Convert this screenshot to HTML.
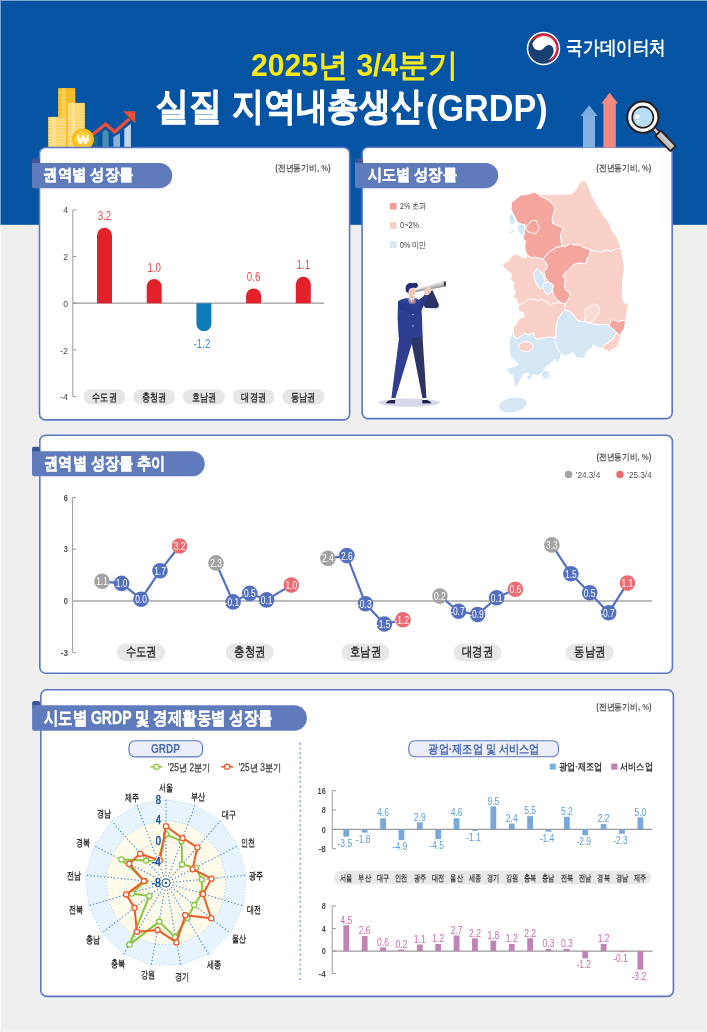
<!DOCTYPE html>
<html lang="ko"><head><meta charset="utf-8">
<style>
html,body{margin:0;padding:0;}
body{width:707px;height:1032px;overflow:hidden;background:#efefef;position:relative;font-family:"Liberation Sans",sans-serif;}
svg{position:absolute;left:0;top:0;will-change:transform;}
svg text{font-family:"Liberation Sans",sans-serif;}
</style></head>
<body>
<svg width="707" height="1032" viewBox="0 0 707 1032">
<rect x="0" y="0" width="707" height="224.8" fill="#0554a4"/>
<rect x="0" y="0" width="707" height="1" fill="#7fa5cf"/>
<rect x="0" y="0" width="1" height="225" fill="#7fa5cf"/>
<rect x="0" y="225" width="1" height="807" fill="#fafafa"/>
<rect x="705" y="225" width="2" height="807" fill="#f2f2f2"/>
<rect x="0" y="1030" width="707" height="2" fill="#f2f2f2"/>
<text x="251.04" y="75.75" font-size="31.91" fill="#f8e81c" textLength="207.41" lengthAdjust="spacingAndGlyphs" font-weight="bold">2025년 3/4분기</text>
<text x="156.02" y="119.45" font-size="38.38" fill="#ffffff" textLength="65.67" lengthAdjust="spacingAndGlyphs" font-weight="bold" stroke="#ffffff" stroke-width="0.9">실질</text>
<text x="231.92" y="119.45" font-size="38.38" fill="#ffffff" textLength="191.07" lengthAdjust="spacingAndGlyphs" font-weight="bold" stroke="#ffffff" stroke-width="0.9">지역내총생산</text>
<text x="426.1" y="121" font-size="36.6" fill="#ffffff" textLength="121.6" lengthAdjust="spacingAndGlyphs" font-weight="bold">(GRDP)</text>
<g transform="translate(543.5 48.5)">
<circle cx="0" cy="0" r="16.7" fill="#ffffff"/>
<circle cx="0" cy="0" r="15.2" fill="#173f70"/>
<path d="M -13.07,-6.95 A 14.8 14.8 0 1 1 5.3,13.82 A 13.7 13.7 0 1 0 -13.07,-6.95 Z" fill="#e8203a"/>
<path d="M -11.2,-4.6 A 12.4 12.4 0 1 1 4.65,11.5 C 7.5,9.5 10.3,5.5 10.2,2.3 C 10.1,-1 8.5,-3.3 5.6,-3.4 C 3,-3.5 1.5,-1.5 0,0 C -1.5,1.5 -3.5,2 -5.1,1.8 C -8,1.5 -10.2,-0.5 -11.2,-4.6 Z" fill="#ffffff"/>
</g>
<text x="566.22" y="53.5" font-size="19.42" fill="#ffffff" textLength="99.87" lengthAdjust="spacingAndGlyphs" font-weight="bold">국가데이터처</text>
<rect x="58.1" y="88.1" width="17.1" height="58.9" fill="#f6bf2e"/>
<rect x="61.86" y="88.1" width="3.76" height="58.9" fill="#fbd560" opacity="0.7"/>
<rect x="58.1" y="92.2" width="17.1" height="0.8" fill="#fad25a"/>
<rect x="58.1" y="97.1" width="17.1" height="0.8" fill="#fad25a"/>
<rect x="58.1" y="102" width="17.1" height="0.8" fill="#fad25a"/>
<rect x="58.1" y="106.9" width="17.1" height="0.8" fill="#fad25a"/>
<rect x="58.1" y="111.8" width="17.1" height="0.8" fill="#fad25a"/>
<rect x="58.1" y="116.7" width="17.1" height="0.8" fill="#fad25a"/>
<rect x="58.1" y="121.6" width="17.1" height="0.8" fill="#fad25a"/>
<rect x="58.1" y="126.5" width="17.1" height="0.8" fill="#fad25a"/>
<rect x="58.1" y="131.4" width="17.1" height="0.8" fill="#fad25a"/>
<rect x="58.1" y="136.3" width="17.1" height="0.8" fill="#fad25a"/>
<rect x="58.1" y="141.2" width="17.1" height="0.8" fill="#fad25a"/>
<rect x="66.5" y="88.1" width="8.7" height="59" fill="#f3b526" opacity="0.6"/>
<rect x="67.8" y="102.9" width="17" height="44.1" fill="#fbd466"/>
<rect x="71.54" y="102.9" width="3.74" height="44.1" fill="#fde6a0" opacity="0.7"/>
<rect x="67.8" y="104.85" width="17" height="0.8" fill="#fde3a0"/>
<rect x="67.8" y="107.6" width="17" height="0.8" fill="#fde3a0"/>
<rect x="67.8" y="110.35" width="17" height="0.8" fill="#fde3a0"/>
<rect x="67.8" y="113.1" width="17" height="0.8" fill="#fde3a0"/>
<rect x="67.8" y="115.85" width="17" height="0.8" fill="#fde3a0"/>
<rect x="67.8" y="118.6" width="17" height="0.8" fill="#fde3a0"/>
<rect x="67.8" y="121.35" width="17" height="0.8" fill="#fde3a0"/>
<rect x="67.8" y="124.1" width="17" height="0.8" fill="#fde3a0"/>
<rect x="67.8" y="126.85" width="17" height="0.8" fill="#fde3a0"/>
<rect x="67.8" y="129.6" width="17" height="0.8" fill="#fde3a0"/>
<rect x="67.8" y="132.35" width="17" height="0.8" fill="#fde3a0"/>
<rect x="67.8" y="135.1" width="17" height="0.8" fill="#fde3a0"/>
<rect x="67.8" y="137.85" width="17" height="0.8" fill="#fde3a0"/>
<rect x="67.8" y="140.6" width="17" height="0.8" fill="#fde3a0"/>
<rect x="67.8" y="143.35" width="17" height="0.8" fill="#fde3a0"/>
<rect x="48.2" y="116.9" width="17.7" height="30.1" fill="#fbd466"/>
<rect x="52.09" y="116.9" width="3.89" height="30.1" fill="#fde6a0" opacity="0.7"/>
<rect x="48.2" y="118.85" width="17.7" height="0.8" fill="#fde3a0"/>
<rect x="48.2" y="121.6" width="17.7" height="0.8" fill="#fde3a0"/>
<rect x="48.2" y="124.35" width="17.7" height="0.8" fill="#fde3a0"/>
<rect x="48.2" y="127.1" width="17.7" height="0.8" fill="#fde3a0"/>
<rect x="48.2" y="129.85" width="17.7" height="0.8" fill="#fde3a0"/>
<rect x="48.2" y="132.6" width="17.7" height="0.8" fill="#fde3a0"/>
<rect x="48.2" y="135.35" width="17.7" height="0.8" fill="#fde3a0"/>
<rect x="48.2" y="138.1" width="17.7" height="0.8" fill="#fde3a0"/>
<rect x="48.2" y="140.85" width="17.7" height="0.8" fill="#fde3a0"/>
<rect x="48.2" y="143.6" width="17.7" height="0.8" fill="#fde3a0"/>
<polygon points="94,137 97.8,135.8 97.8,147.4 94,147.4" fill="#1e6b8a"/>
<polygon points="102.5,132.2 105.6,129.6 108.7,132.2 108.7,147.4 102.5,147.4" fill="#4c8cb0"/>
<polygon points="113.4,136.9 120,133.3 120,147.4 113.4,147.4" fill="#8fb0d2"/>
<polygon points="124.3,129.1 130.9,123.7 130.9,147.4 124.3,147.4" fill="#c4d4e8"/>
<polyline points="90,136.5 105.6,124.1 114.6,132 129.6,118.8" fill="none" stroke="#ea4f37" stroke-width="3.3" stroke-linejoin="miter"/>
<polygon points="123.1,111.2 135.3,111.2 135.3,123.4" fill="#ea4f37"/>
<circle cx="82.9" cy="139.4" r="11" fill="#f7bb1f"/>
<circle cx="82.9" cy="139.4" r="8.7" fill="#f9c93a"/>
<text x="82.9" y="144.2" font-size="12.5" fill="#ffffff" text-anchor="middle" font-weight="bold">₩</text>
<g fill="#ffffff" stroke="#5b78c4" stroke-width="1.6">
<rect x="39.5" y="147.5" width="310.1" height="272.4" rx="6"/>
<rect x="362.1" y="147.3" width="310.1" height="271.3" rx="6"/>
<rect x="39.8" y="435.3" width="632.6" height="238" rx="6"/>
<rect x="40.8" y="689.8" width="632.6" height="306.6" rx="6"/>
</g>
<rect x="583" y="115" width="12" height="32.6" fill="#82b1e0"/>
<polygon points="580.6,116 597.6,116 589.1,105.2" fill="#7eaee0"/>
<rect x="603.4" y="103" width="12.4" height="44.6" fill="#f08a80"/>
<polygon points="601.2,103.6 618,103.6 609.6,92.8" fill="#f08a80"/>
<g transform="translate(642.8 117.2) rotate(46.1)"><rect x="14" y="-1.8" width="9" height="3.6" fill="#d8d8d8" stroke="#2a1f1c" stroke-width="1.1"/><rect x="22.2" y="-3.7" width="21.4" height="7.4" rx="0.8" fill="#bdbdbd" stroke="#2a1f1c" stroke-width="1.7"/><rect x="24" y="-1.6" width="17.5" height="1" fill="#e2e2e2"/></g>
<circle cx="642.8" cy="117.2" r="15.6" fill="#ffffff" stroke="#2a1f1c" stroke-width="2"/>
<circle cx="642.8" cy="117.2" r="10.6" fill="#b5def5" stroke="#2a1f1c" stroke-width="1.6"/>
<circle cx="637.3" cy="116.5" r="2.3" fill="#ffffff"/>
<circle cx="638.1" cy="121" r="1.1" fill="#ffffff"/>
<rect x="32" y="158.2" width="8" height="8.8" rx="2" fill="#3e5596"/>
<path d="M 32,163 H 159.55 A 12.65 12.65 0 0 1 159.55,188.3 H 34 A 2 2 0 0 1 32,186.3 Z" fill="#5f7bbc"/>
<text x="43.31" y="180.45" font-size="16.18" fill="#ffffff" textLength="90.07" lengthAdjust="spacingAndGlyphs" font-weight="bold" stroke="#ffffff" stroke-width="0.35">권역별 성장률</text>
<rect x="355" y="158.3" width="8" height="8.6" rx="2" fill="#3e5596"/>
<path d="M 355,162.9 H 485.55 A 12.65 12.65 0 0 1 485.55,188.2 H 357 A 2 2 0 0 1 355,186.2 Z" fill="#5f7bbc"/>
<text x="367.63" y="180.2" font-size="15.72" fill="#ffffff" textLength="89.24" lengthAdjust="spacingAndGlyphs" font-weight="bold" stroke="#ffffff" stroke-width="0.35">시도별 성장률</text>
<rect x="32" y="446.7" width="8" height="8.6" rx="2" fill="#3e5596"/>
<path d="M 32,451.3 H 192.3 A 12.5 12.5 0 0 1 192.3,476.3 H 34 A 2 2 0 0 1 32,474.3 Z" fill="#5f7bbc"/>
<text x="44.19" y="469.05" font-size="17.11" fill="#ffffff" textLength="121.43" lengthAdjust="spacingAndGlyphs" font-weight="bold" stroke="#ffffff" stroke-width="0.35">권역별 성장률 추이</text>
<rect x="32.1" y="700.9" width="8" height="8.4" rx="2" fill="#3e5596"/>
<path d="M 32.1,705.3 H 294.2 A 12.7 12.7 0 0 1 294.2,730.7 H 34.1 A 2 2 0 0 1 32.1,728.7 Z" fill="#5f7bbc"/>
<text x="43.87" y="723.9" font-size="17.57" fill="#ffffff" textLength="228.65" lengthAdjust="spacingAndGlyphs" font-weight="bold" stroke="#ffffff" stroke-width="0.35">시도별 GRDP 및 경제활동별 성장률</text>
<text x="275.23" y="171.24" font-size="8.9" fill="#5a5a5a" textLength="55.43" lengthAdjust="spacingAndGlyphs" font-weight="bold">(전년동기비, %)</text>
<text x="596.23" y="171.24" font-size="8.9" fill="#5a5a5a" textLength="55.13" lengthAdjust="spacingAndGlyphs" font-weight="bold">(전년동기비, %)</text>
<text x="596.52" y="459.6" font-size="9.25" fill="#5a5a5a" textLength="54.85" lengthAdjust="spacingAndGlyphs" font-weight="bold">(전년동기비, %)</text>
<text x="596.24" y="710.05" font-size="8.79" fill="#5a5a5a" textLength="55.33" lengthAdjust="spacingAndGlyphs" font-weight="bold">(전년동기비, %)</text>
<line x1="72.8" y1="210" x2="72.8" y2="396.6" stroke="#9a9a9a" stroke-width="1"/>
<line x1="72.8" y1="209.8" x2="76.3" y2="209.8" stroke="#9a9a9a" stroke-width="1"/>
<text x="68" y="213.4" font-size="9.92" fill="#4a4a4a" text-anchor="end" textLength="4.8" lengthAdjust="spacingAndGlyphs">4</text>
<line x1="72.8" y1="256.5" x2="76.3" y2="256.5" stroke="#9a9a9a" stroke-width="1"/>
<text x="68" y="260.1" font-size="9.92" fill="#4a4a4a" text-anchor="end" textLength="4.8" lengthAdjust="spacingAndGlyphs">2</text>
<line x1="72.8" y1="303.2" x2="76.3" y2="303.2" stroke="#9a9a9a" stroke-width="1"/>
<text x="68" y="306.8" font-size="9.92" fill="#4a4a4a" text-anchor="end" textLength="4.8" lengthAdjust="spacingAndGlyphs">0</text>
<line x1="72.8" y1="349.9" x2="76.3" y2="349.9" stroke="#9a9a9a" stroke-width="1"/>
<text x="68" y="353.5" font-size="9.92" fill="#4a4a4a" text-anchor="end" textLength="8" lengthAdjust="spacingAndGlyphs">-2</text>
<line x1="72.8" y1="396.6" x2="76.3" y2="396.6" stroke="#9a9a9a" stroke-width="1"/>
<text x="68" y="400.2" font-size="9.92" fill="#4a4a4a" text-anchor="end" textLength="8" lengthAdjust="spacingAndGlyphs">-4</text>
<line x1="72.8" y1="303.2" x2="324.2" y2="303.2" stroke="#9a9a9a" stroke-width="1.2"/>
<path d="M 97,303.2 V 235.18 A 7.5 7.5 0 0 1 112,235.18 V 303.2 Z" fill="#e2212b"/>
<text x="104.5" y="220.38" font-size="13.27" fill="#e8474f" text-anchor="middle" textLength="13.6" lengthAdjust="spacingAndGlyphs">3.2</text>
<rect x="83.5" y="389.2" width="42" height="15.3" rx="7.6" fill="#e6e6e6"/>
<text x="104.5" y="400.51" font-size="10.98" fill="#333333" text-anchor="middle" textLength="24.26" lengthAdjust="spacingAndGlyphs" font-weight="bold">수도권</text>
<path d="M 146.7,303.2 V 286.55 A 7.5 7.5 0 0 1 161.7,286.55 V 303.2 Z" fill="#e2212b"/>
<text x="154.2" y="271.75" font-size="13.27" fill="#e8474f" text-anchor="middle" textLength="13.6" lengthAdjust="spacingAndGlyphs">1.0</text>
<rect x="133.2" y="389.2" width="42" height="15.3" rx="7.6" fill="#e6e6e6"/>
<text x="154.2" y="400.51" font-size="10.98" fill="#333333" text-anchor="middle" textLength="24.26" lengthAdjust="spacingAndGlyphs" font-weight="bold">충청권</text>
<path d="M 196.4,303.2 V 323.72 A 7.5 7.5 0 0 0 211.4,323.72 V 303.2 Z" fill="#0f7bb8"/>
<text x="201.9" y="348.32" font-size="12.71" fill="#3b93c9" text-anchor="middle" textLength="16.8" lengthAdjust="spacingAndGlyphs">-1.2</text>
<rect x="182.9" y="389.2" width="42" height="15.3" rx="7.6" fill="#e6e6e6"/>
<text x="203.9" y="400.51" font-size="10.98" fill="#333333" text-anchor="middle" textLength="24.26" lengthAdjust="spacingAndGlyphs" font-weight="bold">호남권</text>
<path d="M 246.1,303.2 V 295.89 A 7.5 7.5 0 0 1 261.1,295.89 V 303.2 Z" fill="#e2212b"/>
<text x="253.6" y="281.09" font-size="13.27" fill="#e8474f" text-anchor="middle" textLength="13.6" lengthAdjust="spacingAndGlyphs">0.6</text>
<rect x="232.6" y="389.2" width="42" height="15.3" rx="7.6" fill="#e6e6e6"/>
<text x="253.6" y="400.51" font-size="10.98" fill="#333333" text-anchor="middle" textLength="24.26" lengthAdjust="spacingAndGlyphs" font-weight="bold">대경권</text>
<path d="M 295.8,303.2 V 284.21 A 7.5 7.5 0 0 1 310.8,284.21 V 303.2 Z" fill="#e2212b"/>
<text x="303.3" y="269.41" font-size="13.27" fill="#e8474f" text-anchor="middle" textLength="13.6" lengthAdjust="spacingAndGlyphs">1.1</text>
<rect x="282.3" y="389.2" width="42" height="15.3" rx="7.6" fill="#e6e6e6"/>
<text x="303.3" y="400.51" font-size="10.98" fill="#333333" text-anchor="middle" textLength="24.26" lengthAdjust="spacingAndGlyphs" font-weight="bold">동남권</text>
<rect x="390" y="203" width="6.5" height="6.6" fill="#f29d99"/>
<text x="400.1" y="209.13" font-size="9.02" fill="#3a3a3a" textLength="26.3" lengthAdjust="spacingAndGlyphs">2% 초과</text>
<rect x="390" y="222.2" width="6.5" height="6.6" fill="#f7cdc7"/>
<text x="400.1" y="228.33" font-size="9.02" fill="#3a3a3a" textLength="18.9" lengthAdjust="spacingAndGlyphs">0~2%</text>
<rect x="390" y="241.4" width="6.5" height="6.6" fill="#d5e6f5"/>
<text x="400.1" y="247.53" font-size="9.02" fill="#3a3a3a" textLength="26.3" lengthAdjust="spacingAndGlyphs">0% 미만</text>
<ellipse cx="409.2" cy="402.6" rx="30.7" ry="4.2" fill="#d5d9e9"/>
<polygon points="399.3,336 412.1,336 412.1,342.9 395.3,398.6 391.3,398.6" fill="#2e3f92"/>
<polygon points="412.1,336 422.5,336 426.5,398.6 422.5,398.6 411.6,342.9" fill="#2c3565"/>
<rect x="391.3" y="398.2" width="4" height="2" fill="#ffffff"/>
<rect x="422.4" y="398.2" width="4.1" height="2" fill="#ffffff"/>
<path d="M 385.8,403.2 C 386.5,401.2 389,400 391,399.9 L 395.2,400 L 395,403.4 Z" fill="#1c2146"/>
<path d="M 422.3,400 L 426.6,399.9 C 428.5,400.5 431,401.5 431.5,403.2 L 422.3,403.4 Z" fill="#1c2146"/>
<path d="M 419,299.5 L 427.4,294.1 L 432.4,289.9 L 438.9,304.6 C 439,306.5 438,308 436.5,308.2 L 425.5,308 Z" fill="#2a3566"/>
<path d="M 398,301.5 C 399,300 402,298.8 407,298 L 415.5,298.3 L 420.5,300.5 L 421.9,315.5 L 422.7,337.4 L 398.6,337.4 L 397.6,318 Z" fill="#2e3f92"/>
<polygon points="407,298 408.6,297.3 412,303.7 409.5,303.5" fill="#8a93c7"/>
<polygon points="415.5,298.3 414.3,297.4 412.6,303.7 415.6,303.2" fill="#8a93c7"/>
<polygon points="408.6,297.3 414.3,297.4 412.4,303.8" fill="#ffffff"/>
<polygon points="411.6,299.6 413,299.6 412.6,303.6 412,303.6" fill="#ee6a3a"/>
<path d="M 398.2,301.5 C 398,304 398.5,307 399.3,308.4 L 418.8,315 C 421.5,311 425,303 428.4,295.8 L 424.4,294.6 C 421.5,300 418.5,305.5 416.8,308.8 L 404,302.5 Z" fill="#2b3b8c"/>
<line x1="399.5" y1="308.5" x2="418.5" y2="315" stroke="#25347e" stroke-width="0.5"/>
<circle cx="412.9" cy="314.6" r="0.7" fill="#e8e8f0"/>
<circle cx="412.9" cy="325.9" r="0.7" fill="#e8e8f0"/>
<rect x="409.6" y="294" width="4.2" height="4" fill="#efbfae"/>
<ellipse cx="411.6" cy="291.4" rx="4.1" ry="5" fill="#f5c9b9"/>
<ellipse cx="413.6" cy="293.3" rx="1" ry="0.6" fill="#f0a8a0"/>
<path d="M 406.2,291.8 C 405.2,288.5 405.4,285 408.3,283.5 C 410,282.6 412,283.5 413.3,283.2 C 415,282.2 417.8,282.8 418,285.2 C 418.2,287 416.8,288 415.2,287.9 C 413.5,287.7 411.5,287.6 410,288.5 C 408.8,289.3 408.6,291 408.4,293 Z" fill="#1e2b74"/>
<polygon points="415.3,289.4 444.3,280.9 445.4,286.6 415.5,291.9" fill="#c4c4c4"/>
<polygon points="415.5,290.9 445,284.8 445.4,286.6 415.5,291.9" fill="#9d9d9d"/>
<polygon points="416,289.6 444.3,281.5 444.5,282.4 416,290.1" fill="#e6e6e6"/>
<ellipse cx="444.9" cy="283.8" rx="1.1" ry="2.9" fill="#3a3a3a"/>
<path d="M 424.5,294.8 C 424,292.5 424.8,289 426.5,287.5 C 428,286.3 430,286.5 430.8,288 L 430.6,292.5 C 429.5,294.5 427.5,295.8 424.5,294.8 Z" fill="#f5c9b9"/>
<polygon points="539.6,195.2 541,194.6 570.5,194.1 574.4,191.5 577.6,186.5 580.7,182 584.6,180.1 588.4,186.5 592.2,196.6 597.3,205.5 603.6,215.7 608.7,222.1 612.6,231 617.6,238.6 620.2,245 620.8,248.2 616.4,248.8 611.3,251.4 606.2,250.1 601.1,252 596,251.4 590.9,250.1 587.1,248.8 583.3,247.6 579.5,245 574.4,245 570.5,243.7 565.5,246.3 561.6,246.3 560.4,234.8 563.5,228.5 559.1,225.9 552.7,223.4 552.1,218.3 554,211.9 555.3,208.1 552.7,204.3 548.9,200.5 545.1,198.5 541.3,196.6" fill="#f9d1c9" stroke="#ffffff" stroke-width="1.0" stroke-linejoin="round"/>
<polygon points="590.9,250.1 596,251.4 601.1,252 606.2,250.1 611.3,251.4 616.4,248.8 620.8,248.2 622.5,255.2 623.7,264.1 624.4,270.5 623.1,276.8 622.5,283.2 622.5,295.9 623.7,302.3 626.3,303.6 628.8,302.3 627.6,308.6 626.3,316.3 625.6,320.5 621.7,320.7 617.8,321.8 613.8,319.5 610.4,321.2 609.3,326.3 607,324.6 600.2,324.6 592.3,324 584.4,321.8 577.6,320.7 575.4,317.6 571.5,312.5 565.5,310 564.9,303.6 566.5,302.3 569,298.5 570.3,293.4 565.2,289.6 564.5,284.5 565.2,279.4 562.6,275.5 565.2,273 570.3,267.9 574.1,264.1 580.5,262.8 585.6,264.1 586.8,259 589.4,255.2" fill="#f9d1c9" stroke="#ffffff" stroke-width="1.0" stroke-linejoin="round"/>
<polygon points="512.7,255.2 516.5,253.9 520.4,256.5 525.5,258.2 527.2,255.2 531.4,257.7 535.6,257.1 543.3,259 543.9,260.3 547.1,264.1 547.1,267.9 543.9,271.7 545.8,278.1 549.6,283.2 553.5,285.7 552.2,289.6 553.5,294.6 556,298.5 561.1,302.9 564.9,303.6 561.1,302.9 554.7,302.9 550.9,304.8 545.8,301.6 542,299.1 536.9,301 531.8,298.5 527.4,299.7 522.9,303.6 517.8,304.8 516.5,299 513,297.5 515.5,292 513,288 514,283 510.5,279 511.5,274 507,270.5 504,268 502.5,264.1 505,262.5 507.6,261.5 510,258" fill="#f9d1c9" stroke="#ffffff" stroke-width="1.0" stroke-linejoin="round"/>
<polygon points="517.8,304.8 522.9,303.6 527.4,299.7 531.8,298.5 536.9,301 542,299.1 545.8,301.6 550.9,304.8 554.7,302.9 561.1,302.9 564.9,303.6 565.5,310 563.6,311.2 559.8,316.3 557.3,321.4 556,327.7 556.1,332.6 556.1,336.5 553.6,337.7 548.5,337.1 542.1,338.4 535.7,339 533.2,332.6 529.4,335.2 524.3,333.3 517.9,338.4 514.1,337.1 512.8,330.1 514,326.5 516.5,323.9 519.1,318.8 524.2,316.3 523.5,312.5 519.1,311.2 518.5,308" fill="#f9d1c9" stroke="#ffffff" stroke-width="1.0" stroke-linejoin="round"/>
<polygon points="512.8,330.1 514.1,337.1 517.9,338.4 524.3,333.3 529.4,335.2 533.2,332.6 535.7,339 542.1,338.4 548.5,337.1 553.6,337.7 556.1,336.5 554.8,341.5 557.4,347.9 561.2,354.3 561.2,355.6 559.9,359.4 558.6,363.2 554.8,359.4 551,363.2 545.9,367 543.4,372.1 538.3,375.9 533.2,374.6 530.6,379.7 525.5,379.7 529.4,373.4 524.3,373.4 519.2,382.3 516,387.4 514.1,384.8 512.8,375.9 509,373.4 505.8,369.6 511.5,367 517.9,364.5 514.1,359.4 510.3,356.8 509.6,349.2 509,341.5 511.5,335.2" fill="#d5e6f5" stroke="#ffffff" stroke-width="1.0" stroke-linejoin="round"/>
<polygon points="541,374 545,370 550,372 549,378 544,379.5" fill="#d5e6f5" stroke="#ffffff" stroke-width="1.0" stroke-linejoin="round"/>
<polygon points="565.5,310 571.5,312.5 575.4,317.6 577.6,320.7 584.4,321.8 592.3,324 600.2,324.6 607,324.6 609.3,326.3 612.7,328.6 616.7,332.5 613.8,337.6 609.3,342.1 604.8,344.4 601.4,347.8 598,348.4 593.5,344.4 592.3,347.8 586.7,352.3 585,355.7 585.5,359.1 581,358 576.5,358 573.1,352.3 569.7,354.6 565.2,355.7 561.8,354.6 561.2,354.3 557.4,347.9 554.8,341.5 556.1,336.5 556.1,332.6 556,327.7 557.3,321.4 559.8,316.3 563.6,311.2" fill="#d5e6f5" stroke="#ffffff" stroke-width="1.0" stroke-linejoin="round"/>
<polygon points="511.5,202.6 520.5,195.2 529,194.1 534.3,192 539.6,195.2 541.3,196.6 545.1,198.5 548.9,200.5 552.7,204.3 555.3,208.1 554,211.9 552.1,218.3 552.7,223.4 559.1,225.9 563.5,228.5 560.4,234.8 561.6,246.3 556,247.5 548.4,252.6 543.3,259 535.6,257.1 531.4,257.7 527.2,255.2 525.5,250.9 524.6,244.1 526.3,241.6 523.8,239.9 523.3,236.5 524.2,234 524.6,228.9 525.5,225 521.2,224.2 517,222.1 514.9,217 512.7,212.7 511,209.3" fill="#f4a69e" stroke="#ffffff" stroke-width="1.0" stroke-linejoin="round"/>
<polygon points="561.6,246.3 565.5,246.3 570.5,243.7 574.4,245 579.5,245 583.3,247.6 587.1,248.8 590.9,250.1 589.4,255.2 586.8,259 585.6,264.1 580.5,262.8 574.1,264.1 570.3,267.9 565.2,273 562.6,275.5 565.2,279.4 564.5,284.5 565.2,289.6 570.3,293.4 569,298.5 566.5,302.3 564.9,303.6 561.1,302.9 556,298.5 553.5,294.6 552.2,289.6 553.5,285.7 549.6,283.2 545.8,278.1 543.9,271.7 547.1,267.9 547.1,264.1 543.9,260.3 543.3,259 548.4,252.6 556,247.5" fill="#f4a69e" stroke="#ffffff" stroke-width="1.0" stroke-linejoin="round"/>
<polygon points="616.7,332.5 620.6,335.9 619.5,341 617.2,346.7 613.8,348.9 609.3,352.3 604.8,349.5 601.4,347.8 604.8,344.4 609.3,342.1 613.8,337.6" fill="#f9d1c9" stroke="#ffffff" stroke-width="1.0" stroke-linejoin="round"/>
<polygon points="609.3,326.3 610.4,321.2 613.8,319.5 617.8,321.8 621.7,320.7 625.6,320.5 625.1,323.5 624.6,328 621.7,332 620.6,335.9 616.7,332.5 612.7,328.6" fill="#f4a69e" stroke="#ffffff" stroke-width="1.0" stroke-linejoin="round"/>
<polygon points="536.9,268.5 540.7,271.7 544.6,278.1 545.2,282.6 543.9,287 540.7,288.9 536.9,285.7 534.4,279.4 533.7,273" fill="#d5e6f5" stroke="#ffffff" stroke-width="1.0" stroke-linejoin="round"/>
<polygon points="543.9,283.2 548.4,281.9 552.2,283.8 552.8,288.3 550.9,292.1 547.7,294.6 545.2,292.7 542.6,287.6" fill="#d5e6f5" stroke="#ffffff" stroke-width="1.0" stroke-linejoin="round"/>
<polygon points="585.6,308.6 590.6,306.1 594.5,303.6 598.9,306.1 598.9,312.5 595.7,317.6 593.2,321.4 588.1,322.6 584.3,320.1 585.6,315 584.9,311.2" fill="#fbdad3" stroke="#ffffff" stroke-width="1.0" stroke-linejoin="round"/>
<polygon points="525.5,228 528.9,223.3 532.7,220.4 536.5,220.8 537.8,224.6 539.5,228 537.4,231.8 534.4,234 531.4,232.7 528,231.8" fill="#f4a69e" stroke="#ffffff" stroke-width="1.0" stroke-linejoin="round"/>
<polygon points="517.8,224.6 521.2,224.2 525.5,225 524.6,228.9 524.2,234 522.5,235.7 520,234 518.3,231.4 517.4,228" fill="#d5e6f5" stroke="#ffffff" stroke-width="1.0" stroke-linejoin="round"/>
<polygon points="510.2,214.4 512.7,214 514.9,218.3 515.3,222.1 514,225 511,224.6 509.3,220.4 508.9,216.6" fill="#d5e6f5" stroke="#ffffff" stroke-width="1.0" stroke-linejoin="round"/>
<polygon points="509.3,232.7 512,230.2 516.1,229.3 515,231.5 511.5,233.5" fill="#d5e6f5" stroke="#ffffff" stroke-width="1.0" stroke-linejoin="round"/>
<ellipse cx="525.9" cy="346.6" rx="7.3" ry="5" fill="#f9d1c9" stroke="#ffffff" stroke-width="1"/>
<ellipse cx="512.8" cy="404.9" rx="14" ry="7.2" fill="#d5e6f5" transform="rotate(-10 512.8 404.9)"/>
<line x1="72.6" y1="497.5" x2="72.6" y2="652.6" stroke="#9a9a9a" stroke-width="1"/>
<line x1="72.6" y1="497.5" x2="76.2" y2="497.5" stroke="#9a9a9a" stroke-width="1"/>
<text x="67.9" y="500.6" font-size="8.52" fill="#4a4a4a" text-anchor="end" textLength="4.1" lengthAdjust="spacingAndGlyphs" font-weight="bold">6</text>
<line x1="72.6" y1="549.2" x2="76.2" y2="549.2" stroke="#9a9a9a" stroke-width="1"/>
<text x="67.9" y="552.3" font-size="8.52" fill="#4a4a4a" text-anchor="end" textLength="4.1" lengthAdjust="spacingAndGlyphs" font-weight="bold">3</text>
<line x1="72.6" y1="600.9" x2="76.2" y2="600.9" stroke="#9a9a9a" stroke-width="1"/>
<text x="67.9" y="604" font-size="8.52" fill="#4a4a4a" text-anchor="end" textLength="4.1" lengthAdjust="spacingAndGlyphs" font-weight="bold">0</text>
<line x1="72.6" y1="652.6" x2="76.2" y2="652.6" stroke="#9a9a9a" stroke-width="1"/>
<text x="67.9" y="655.7" font-size="8.52" fill="#4a4a4a" text-anchor="end" textLength="7.2" lengthAdjust="spacingAndGlyphs" font-weight="bold">-3</text>
<line x1="72.6" y1="600.9" x2="652" y2="600.9" stroke="#bdbdbd" stroke-width="2"/>
<polyline points="102,581.3 121.6,583.4 141,599.2 160,570.8 179.5,546" fill="none" stroke="#5470c0" stroke-width="2.2"/>
<circle cx="102" cy="581.3" r="7.8" fill="#a3a3a3"/>
<text x="102" y="585.2" font-size="10.89" fill="#ffffff" text-anchor="middle" textLength="11.7" lengthAdjust="spacingAndGlyphs">1.1</text>
<circle cx="121.6" cy="583.4" r="7.8" fill="#5470c0"/>
<text x="121.6" y="587.3" font-size="10.89" fill="#ffffff" text-anchor="middle" textLength="11.7" lengthAdjust="spacingAndGlyphs">1.0</text>
<circle cx="141" cy="599.2" r="7.8" fill="#5470c0"/>
<text x="141" y="603.1" font-size="10.89" fill="#ffffff" text-anchor="middle" textLength="11.7" lengthAdjust="spacingAndGlyphs">0.0</text>
<circle cx="160" cy="570.8" r="7.8" fill="#5470c0"/>
<text x="160" y="574.7" font-size="10.89" fill="#ffffff" text-anchor="middle" textLength="11.7" lengthAdjust="spacingAndGlyphs">1.7</text>
<circle cx="179.5" cy="546" r="7.8" fill="#eb6b70"/>
<text x="179.5" y="549.9" font-size="10.89" fill="#ffffff" text-anchor="middle" textLength="11.7" lengthAdjust="spacingAndGlyphs">3.2</text>
<rect x="117" y="643.4" width="48" height="17.9" rx="9" fill="#e8e8e8"/>
<text x="141" y="656.23" font-size="12.72" fill="#333333" text-anchor="middle" textLength="30.96" lengthAdjust="spacingAndGlyphs" font-weight="bold">수도권</text>
<polyline points="216,562.9 233.1,601.9 249.8,593.4 266.6,599.9 291.3,585.1" fill="none" stroke="#5470c0" stroke-width="2.2"/>
<circle cx="216" cy="562.9" r="7.8" fill="#a3a3a3"/>
<text x="216" y="566.8" font-size="10.89" fill="#ffffff" text-anchor="middle" textLength="11.7" lengthAdjust="spacingAndGlyphs">2.3</text>
<circle cx="233.1" cy="601.9" r="7.8" fill="#5470c0"/>
<text x="231.9" y="605.8" font-size="10.89" fill="#ffffff" text-anchor="middle" textLength="14.6" lengthAdjust="spacingAndGlyphs">-0.1</text>
<circle cx="249.8" cy="593.4" r="7.8" fill="#5470c0"/>
<text x="249.8" y="597.3" font-size="10.89" fill="#ffffff" text-anchor="middle" textLength="11.7" lengthAdjust="spacingAndGlyphs">0.5</text>
<circle cx="266.6" cy="599.9" r="7.8" fill="#5470c0"/>
<text x="266.6" y="603.8" font-size="10.89" fill="#ffffff" text-anchor="middle" textLength="11.7" lengthAdjust="spacingAndGlyphs">0.1</text>
<circle cx="291.3" cy="585.1" r="7.8" fill="#eb6b70"/>
<text x="291.3" y="589" font-size="10.89" fill="#ffffff" text-anchor="middle" textLength="11.7" lengthAdjust="spacingAndGlyphs">1.0</text>
<rect x="225.8" y="643.4" width="48" height="17.9" rx="9" fill="#e8e8e8"/>
<text x="249.8" y="656.23" font-size="12.72" fill="#333333" text-anchor="middle" textLength="30.96" lengthAdjust="spacingAndGlyphs" font-weight="bold">충청권</text>
<polyline points="327.9,558.4 346.9,555.6 365.5,603.8 384.4,624 403,619.7" fill="none" stroke="#5470c0" stroke-width="2.2"/>
<circle cx="327.9" cy="558.4" r="7.8" fill="#a3a3a3"/>
<text x="327.9" y="562.3" font-size="10.89" fill="#ffffff" text-anchor="middle" textLength="11.7" lengthAdjust="spacingAndGlyphs">2.4</text>
<circle cx="346.9" cy="555.6" r="7.8" fill="#5470c0"/>
<text x="346.9" y="559.5" font-size="10.89" fill="#ffffff" text-anchor="middle" textLength="11.7" lengthAdjust="spacingAndGlyphs">2.6</text>
<circle cx="365.5" cy="603.8" r="7.8" fill="#5470c0"/>
<text x="364.3" y="607.7" font-size="10.89" fill="#ffffff" text-anchor="middle" textLength="14.6" lengthAdjust="spacingAndGlyphs">-0.3</text>
<circle cx="384.4" cy="624" r="7.8" fill="#5470c0"/>
<text x="383.2" y="627.9" font-size="10.89" fill="#ffffff" text-anchor="middle" textLength="14.6" lengthAdjust="spacingAndGlyphs">-1.5</text>
<circle cx="403" cy="619.7" r="7.8" fill="#eb6b70"/>
<text x="401.8" y="623.6" font-size="10.89" fill="#ffffff" text-anchor="middle" textLength="14.6" lengthAdjust="spacingAndGlyphs">-1.2</text>
<rect x="341.5" y="643.4" width="48" height="17.9" rx="9" fill="#e8e8e8"/>
<text x="365.5" y="656.23" font-size="12.72" fill="#333333" text-anchor="middle" textLength="30.96" lengthAdjust="spacingAndGlyphs" font-weight="bold">호남권</text>
<polyline points="439.9,596.1 458.6,611.3 477.6,614.5 496.7,597.8 515.4,589.3" fill="none" stroke="#5470c0" stroke-width="2.2"/>
<circle cx="439.9" cy="596.1" r="7.8" fill="#a3a3a3"/>
<text x="439.9" y="600" font-size="10.89" fill="#ffffff" text-anchor="middle" textLength="11.7" lengthAdjust="spacingAndGlyphs">0.2</text>
<circle cx="458.6" cy="611.3" r="7.8" fill="#5470c0"/>
<text x="457.4" y="615.2" font-size="10.89" fill="#ffffff" text-anchor="middle" textLength="14.6" lengthAdjust="spacingAndGlyphs">-0.7</text>
<circle cx="477.6" cy="614.5" r="7.8" fill="#5470c0"/>
<text x="476.4" y="618.4" font-size="10.89" fill="#ffffff" text-anchor="middle" textLength="14.6" lengthAdjust="spacingAndGlyphs">-0.9</text>
<circle cx="496.7" cy="597.8" r="7.8" fill="#5470c0"/>
<text x="496.7" y="601.7" font-size="10.89" fill="#ffffff" text-anchor="middle" textLength="11.7" lengthAdjust="spacingAndGlyphs">0.1</text>
<circle cx="515.4" cy="589.3" r="7.8" fill="#eb6b70"/>
<text x="515.4" y="593.2" font-size="10.89" fill="#ffffff" text-anchor="middle" textLength="11.7" lengthAdjust="spacingAndGlyphs">0.6</text>
<rect x="453.6" y="643.4" width="48" height="17.9" rx="9" fill="#e8e8e8"/>
<text x="477.6" y="656.23" font-size="12.72" fill="#333333" text-anchor="middle" textLength="30.96" lengthAdjust="spacingAndGlyphs" font-weight="bold">대경권</text>
<polyline points="551.9,544.9 570.9,573.8 589.7,592.8 608.7,612.7 627.4,583.1" fill="none" stroke="#5470c0" stroke-width="2.2"/>
<circle cx="551.9" cy="544.9" r="7.8" fill="#a3a3a3"/>
<text x="551.9" y="548.8" font-size="10.89" fill="#ffffff" text-anchor="middle" textLength="11.7" lengthAdjust="spacingAndGlyphs">3.3</text>
<circle cx="570.9" cy="573.8" r="7.8" fill="#5470c0"/>
<text x="570.9" y="577.7" font-size="10.89" fill="#ffffff" text-anchor="middle" textLength="11.7" lengthAdjust="spacingAndGlyphs">1.5</text>
<circle cx="589.7" cy="592.8" r="7.8" fill="#5470c0"/>
<text x="589.7" y="596.7" font-size="10.89" fill="#ffffff" text-anchor="middle" textLength="11.7" lengthAdjust="spacingAndGlyphs">0.5</text>
<circle cx="608.7" cy="612.7" r="7.8" fill="#5470c0"/>
<text x="607.5" y="616.6" font-size="10.89" fill="#ffffff" text-anchor="middle" textLength="14.6" lengthAdjust="spacingAndGlyphs">-0.7</text>
<circle cx="627.4" cy="583.1" r="7.8" fill="#eb6b70"/>
<text x="627.4" y="587" font-size="10.89" fill="#ffffff" text-anchor="middle" textLength="11.7" lengthAdjust="spacingAndGlyphs">1.1</text>
<rect x="565.7" y="643.4" width="48" height="17.9" rx="9" fill="#e8e8e8"/>
<text x="589.7" y="656.23" font-size="12.72" fill="#333333" text-anchor="middle" textLength="30.96" lengthAdjust="spacingAndGlyphs" font-weight="bold">동남권</text>
<circle cx="568.5" cy="474.4" r="3.7" fill="#a3a3a3"/>
<text x="575.6" y="478" font-size="9.5" fill="#555555" textLength="24.6" lengthAdjust="spacingAndGlyphs">’24.3/4</text>
<circle cx="620" cy="474.4" r="3.7" fill="#eb6b70"/>
<text x="627.1" y="478" font-size="9.5" fill="#555555" textLength="24.6" lengthAdjust="spacingAndGlyphs">’25.3/4</text>
<rect x="129" y="740.7" width="73.5" height="16.2" rx="6" fill="#eceef9" stroke="#5b78c4" stroke-width="1.1"/>
<text x="165.5" y="753.2" font-size="12.29" fill="#4a69b6" text-anchor="middle" textLength="28.9" lengthAdjust="spacingAndGlyphs" font-weight="bold">GRDP</text>
<line x1="150.5" y1="766.8" x2="162.3" y2="766.8" stroke="#8dc63f" stroke-width="1.6"/>
<circle cx="156.5" cy="766.8" r="2.6" fill="#ffffff" stroke="#8dc63f" stroke-width="1.3"/>
<text x="167.7" y="770.81" font-size="10.06" fill="#3a3a3a" textLength="43" lengthAdjust="spacingAndGlyphs" stroke="#3a3a3a" stroke-width="0.25">’25년 2분기</text>
<line x1="221.2" y1="766.8" x2="233" y2="766.8" stroke="#ef5a2a" stroke-width="1.6"/>
<circle cx="227.1" cy="766.8" r="2.6" fill="#ffffff" stroke="#ef5a2a" stroke-width="1.3"/>
<text x="238.4" y="770.81" font-size="10.06" fill="#3a3a3a" textLength="43" lengthAdjust="spacingAndGlyphs" stroke="#3a3a3a" stroke-width="0.25">’25년 3분기</text>
<polygon points="166,799.3 195.08,804.95 220.24,821.12 238.07,845.64 246.16,875.19 243.43,905.78 230.25,933.28 208.38,953.98 180.79,965.08 151.21,965.08 123.62,953.98 101.75,933.28 88.57,905.78 85.84,875.19 93.93,845.64 111.76,821.12 136.92,804.95" fill="#e8f4fd"/>
<polygon points="166,820.2 187.81,824.43 206.68,836.56 220.05,854.95 226.12,877.11 224.08,900.06 214.18,920.69 197.79,936.21 177.09,944.53 154.91,944.53 134.21,936.21 117.82,920.69 107.92,900.06 105.88,877.11 111.95,854.95 125.32,836.56 144.19,824.43" fill="#fefbea"/>
<polygon points="166,862 173.27,863.41 179.56,867.45 184.02,873.58 186.04,880.97 185.36,888.62 182.06,895.5 176.6,900.67 169.7,903.44 162.3,903.44 155.4,900.67 149.94,895.5 146.64,888.62 145.96,880.97 147.98,873.58 152.44,867.45 158.73,863.41" fill="none" stroke="#a3d0f0" stroke-width="1" stroke-dasharray="1 2.2"/>
<polygon points="166,841.1 180.54,843.92 193.12,852.01 202.03,864.27 206.08,879.04 204.72,894.34 198.12,908.09 187.19,918.44 173.4,923.99 158.6,923.99 144.81,918.44 133.88,908.09 127.28,894.34 125.92,879.04 129.97,864.27 138.88,852.01 151.46,843.92" fill="none" stroke="#a3d0f0" stroke-width="1" stroke-dasharray="1 2.2"/>
<polygon points="166,820.2 187.81,824.43 206.68,836.56 220.05,854.95 226.12,877.11 224.08,900.06 214.18,920.69 197.79,936.21 177.09,944.53 154.91,944.53 134.21,936.21 117.82,920.69 107.92,900.06 105.88,877.11 111.95,854.95 125.32,836.56 144.19,824.43" fill="none" stroke="#a3d0f0" stroke-width="1" stroke-dasharray="1 2.2"/>
<polygon points="166,799.3 195.08,804.95 220.24,821.12 238.07,845.64 246.16,875.19 243.43,905.78 230.25,933.28 208.38,953.98 180.79,965.08 151.21,965.08 123.62,953.98 101.75,933.28 88.57,905.78 85.84,875.19 93.93,845.64 111.76,821.12 136.92,804.95" fill="none" stroke="#a3d0f0" stroke-width="1" stroke-dasharray="1 2.2"/>
<line x1="166" y1="882.9" x2="166" y2="799.3" stroke="#3b78c2" stroke-width="1.1" stroke-dasharray="1.2 2.2"/>
<line x1="166" y1="882.9" x2="195.08" y2="804.95" stroke="#3b78c2" stroke-width="1.1" stroke-dasharray="1.2 2.2"/>
<line x1="166" y1="882.9" x2="220.24" y2="821.12" stroke="#3b78c2" stroke-width="1.1" stroke-dasharray="1.2 2.2"/>
<line x1="166" y1="882.9" x2="238.07" y2="845.64" stroke="#3b78c2" stroke-width="1.1" stroke-dasharray="1.2 2.2"/>
<line x1="166" y1="882.9" x2="246.16" y2="875.19" stroke="#3b78c2" stroke-width="1.1" stroke-dasharray="1.2 2.2"/>
<line x1="166" y1="882.9" x2="243.43" y2="905.78" stroke="#3b78c2" stroke-width="1.1" stroke-dasharray="1.2 2.2"/>
<line x1="166" y1="882.9" x2="230.25" y2="933.28" stroke="#3b78c2" stroke-width="1.1" stroke-dasharray="1.2 2.2"/>
<line x1="166" y1="882.9" x2="208.38" y2="953.98" stroke="#3b78c2" stroke-width="1.1" stroke-dasharray="1.2 2.2"/>
<line x1="166" y1="882.9" x2="180.79" y2="965.08" stroke="#3b78c2" stroke-width="1.1" stroke-dasharray="1.2 2.2"/>
<line x1="166" y1="882.9" x2="151.21" y2="965.08" stroke="#3b78c2" stroke-width="1.1" stroke-dasharray="1.2 2.2"/>
<line x1="166" y1="882.9" x2="123.62" y2="953.98" stroke="#3b78c2" stroke-width="1.1" stroke-dasharray="1.2 2.2"/>
<line x1="166" y1="882.9" x2="101.75" y2="933.28" stroke="#3b78c2" stroke-width="1.1" stroke-dasharray="1.2 2.2"/>
<line x1="166" y1="882.9" x2="88.57" y2="905.78" stroke="#3b78c2" stroke-width="1.1" stroke-dasharray="1.2 2.2"/>
<line x1="166" y1="882.9" x2="85.84" y2="875.19" stroke="#3b78c2" stroke-width="1.1" stroke-dasharray="1.2 2.2"/>
<line x1="166" y1="882.9" x2="93.93" y2="845.64" stroke="#3b78c2" stroke-width="1.1" stroke-dasharray="1.2 2.2"/>
<line x1="166" y1="882.9" x2="111.76" y2="821.12" stroke="#3b78c2" stroke-width="1.1" stroke-dasharray="1.2 2.2"/>
<line x1="166" y1="882.9" x2="136.92" y2="804.95" stroke="#3b78c2" stroke-width="1.1" stroke-dasharray="1.2 2.2"/>
<polygon points="166,834.3 181.6,841.1 182.1,864.4 195.7,867.8 201.8,879.6 202,893.3 194.2,905.1 187.4,917.7 175,937.2 159.3,921.6 129.5,944.6 149.4,895.9 131.9,893.5 145.2,881.2 121.4,859.5 146.2,860.6 157.5,861.5" fill="none" stroke="#8cc63e" stroke-width="2" stroke-linejoin="round"/>
<circle cx="166" cy="834.3" r="2.6" fill="#ffffff" stroke="#8cc63e" stroke-width="1.3"/>
<circle cx="181.6" cy="841.1" r="2.6" fill="#ffffff" stroke="#8cc63e" stroke-width="1.3"/>
<circle cx="182.1" cy="864.4" r="2.6" fill="#ffffff" stroke="#8cc63e" stroke-width="1.3"/>
<circle cx="195.7" cy="867.8" r="2.6" fill="#ffffff" stroke="#8cc63e" stroke-width="1.3"/>
<circle cx="201.8" cy="879.6" r="2.6" fill="#ffffff" stroke="#8cc63e" stroke-width="1.3"/>
<circle cx="202" cy="893.3" r="2.6" fill="#ffffff" stroke="#8cc63e" stroke-width="1.3"/>
<circle cx="194.2" cy="905.1" r="2.6" fill="#ffffff" stroke="#8cc63e" stroke-width="1.3"/>
<circle cx="187.4" cy="917.7" r="2.6" fill="#ffffff" stroke="#8cc63e" stroke-width="1.3"/>
<circle cx="175" cy="937.2" r="2.6" fill="#ffffff" stroke="#8cc63e" stroke-width="1.3"/>
<circle cx="159.3" cy="921.6" r="2.6" fill="#ffffff" stroke="#8cc63e" stroke-width="1.3"/>
<circle cx="129.5" cy="944.6" r="2.6" fill="#ffffff" stroke="#8cc63e" stroke-width="1.3"/>
<circle cx="149.4" cy="895.9" r="2.6" fill="#ffffff" stroke="#8cc63e" stroke-width="1.3"/>
<circle cx="131.9" cy="893.5" r="2.6" fill="#ffffff" stroke="#8cc63e" stroke-width="1.3"/>
<circle cx="145.2" cy="881.2" r="2.6" fill="#ffffff" stroke="#8cc63e" stroke-width="1.3"/>
<circle cx="121.4" cy="859.5" r="2.6" fill="#ffffff" stroke="#8cc63e" stroke-width="1.3"/>
<circle cx="146.2" cy="860.6" r="2.6" fill="#ffffff" stroke="#8cc63e" stroke-width="1.3"/>
<circle cx="157.5" cy="861.5" r="2.6" fill="#ffffff" stroke="#8cc63e" stroke-width="1.3"/>
<polygon points="166,826.3 182.6,838.2 197.4,847.4 192.5,869.2 211.5,878.7 203,894 211.2,918.2 185.3,915.3 176.4,942.4 157.5,929.9 136.9,931.7 134.5,907.8 126.2,894.4 143.9,881.1 129.2,863.7 140.1,853.8 159.8,860.5" fill="none" stroke="#ee5a2a" stroke-width="2" stroke-linejoin="round"/>
<circle cx="166" cy="826.3" r="2.6" fill="#ffffff" stroke="#ee5a2a" stroke-width="1.3"/>
<circle cx="182.6" cy="838.2" r="2.6" fill="#ffffff" stroke="#ee5a2a" stroke-width="1.3"/>
<circle cx="197.4" cy="847.4" r="2.6" fill="#ffffff" stroke="#ee5a2a" stroke-width="1.3"/>
<circle cx="192.5" cy="869.2" r="2.6" fill="#ffffff" stroke="#ee5a2a" stroke-width="1.3"/>
<circle cx="211.5" cy="878.7" r="2.6" fill="#ffffff" stroke="#ee5a2a" stroke-width="1.3"/>
<circle cx="203" cy="894" r="2.6" fill="#ffffff" stroke="#ee5a2a" stroke-width="1.3"/>
<circle cx="211.2" cy="918.2" r="2.6" fill="#ffffff" stroke="#ee5a2a" stroke-width="1.3"/>
<circle cx="185.3" cy="915.3" r="2.6" fill="#ffffff" stroke="#ee5a2a" stroke-width="1.3"/>
<circle cx="176.4" cy="942.4" r="2.6" fill="#ffffff" stroke="#ee5a2a" stroke-width="1.3"/>
<circle cx="157.5" cy="929.9" r="2.6" fill="#ffffff" stroke="#ee5a2a" stroke-width="1.3"/>
<circle cx="136.9" cy="931.7" r="2.6" fill="#ffffff" stroke="#ee5a2a" stroke-width="1.3"/>
<circle cx="134.5" cy="907.8" r="2.6" fill="#ffffff" stroke="#ee5a2a" stroke-width="1.3"/>
<circle cx="126.2" cy="894.4" r="2.6" fill="#ffffff" stroke="#ee5a2a" stroke-width="1.3"/>
<circle cx="143.9" cy="881.1" r="2.6" fill="#ffffff" stroke="#ee5a2a" stroke-width="1.3"/>
<circle cx="129.2" cy="863.7" r="2.6" fill="#ffffff" stroke="#ee5a2a" stroke-width="1.3"/>
<circle cx="140.1" cy="853.8" r="2.6" fill="#ffffff" stroke="#ee5a2a" stroke-width="1.3"/>
<circle cx="159.8" cy="860.5" r="2.6" fill="#ffffff" stroke="#ee5a2a" stroke-width="1.3"/>
<text x="161" y="803.5" font-size="12.01" fill="#1f58a8" text-anchor="end" textLength="5.2" lengthAdjust="spacingAndGlyphs" stroke="#ffffff" stroke-width="2" paint-order="stroke" stroke-linejoin="round">8</text>
<text x="161" y="803.5" font-size="12.01" fill="#1f58a8" text-anchor="end" textLength="5.2" lengthAdjust="spacingAndGlyphs" stroke="#1f58a8" stroke-width="0.35">8</text>
<text x="161" y="824.4" font-size="12.01" fill="#1f58a8" text-anchor="end" textLength="5.2" lengthAdjust="spacingAndGlyphs" stroke="#f3f8f4" stroke-width="2" paint-order="stroke" stroke-linejoin="round">4</text>
<text x="161" y="824.4" font-size="12.01" fill="#1f58a8" text-anchor="end" textLength="5.2" lengthAdjust="spacingAndGlyphs" stroke="#1f58a8" stroke-width="0.35">4</text>
<text x="161" y="845.3" font-size="12.01" fill="#1f58a8" text-anchor="end" textLength="5.2" lengthAdjust="spacingAndGlyphs" stroke="#fefbea" stroke-width="2" paint-order="stroke" stroke-linejoin="round">0</text>
<text x="161" y="845.3" font-size="12.01" fill="#1f58a8" text-anchor="end" textLength="5.2" lengthAdjust="spacingAndGlyphs" stroke="#1f58a8" stroke-width="0.35">0</text>
<text x="161" y="866.2" font-size="12.01" fill="#1f58a8" text-anchor="end" textLength="9.4" lengthAdjust="spacingAndGlyphs" stroke="#fefbea" stroke-width="2" paint-order="stroke" stroke-linejoin="round">-4</text>
<text x="161" y="866.2" font-size="12.01" fill="#1f58a8" text-anchor="end" textLength="9.4" lengthAdjust="spacingAndGlyphs" stroke="#1f58a8" stroke-width="0.35">-4</text>
<text x="161" y="887.1" font-size="12.01" fill="#1f58a8" text-anchor="end" textLength="9.4" lengthAdjust="spacingAndGlyphs" stroke="#fefbea" stroke-width="2" paint-order="stroke" stroke-linejoin="round">-8</text>
<text x="161" y="887.1" font-size="12.01" fill="#1f58a8" text-anchor="end" textLength="9.4" lengthAdjust="spacingAndGlyphs" stroke="#1f58a8" stroke-width="0.35">-8</text>
<circle cx="166" cy="882.9" r="4" fill="#ffffff" stroke="#2a5ca8" stroke-width="0.9"/>
<circle cx="166" cy="882.9" r="1.2" fill="#1f4f9c"/>
<text x="165.6" y="791.13" font-size="9.94" fill="#333333" text-anchor="middle" textLength="14.2" lengthAdjust="spacingAndGlyphs" font-weight="bold">서울</text>
<text x="198.5" y="799.63" font-size="9.94" fill="#333333" text-anchor="middle" textLength="14.2" lengthAdjust="spacingAndGlyphs" font-weight="bold">부산</text>
<text x="228.7" y="817.53" font-size="9.94" fill="#333333" text-anchor="middle" textLength="14.2" lengthAdjust="spacingAndGlyphs" font-weight="bold">대구</text>
<text x="248.4" y="846.03" font-size="9.94" fill="#333333" text-anchor="middle" textLength="14.2" lengthAdjust="spacingAndGlyphs" font-weight="bold">인천</text>
<text x="256.2" y="878.73" font-size="9.94" fill="#333333" text-anchor="middle" textLength="14.2" lengthAdjust="spacingAndGlyphs" font-weight="bold">광주</text>
<text x="254.2" y="913.33" font-size="9.94" fill="#333333" text-anchor="middle" textLength="14.2" lengthAdjust="spacingAndGlyphs" font-weight="bold">대전</text>
<text x="239.2" y="942.13" font-size="9.94" fill="#333333" text-anchor="middle" textLength="14.2" lengthAdjust="spacingAndGlyphs" font-weight="bold">울산</text>
<text x="213.8" y="967.63" font-size="9.94" fill="#333333" text-anchor="middle" textLength="14.2" lengthAdjust="spacingAndGlyphs" font-weight="bold">세종</text>
<text x="182.2" y="979.53" font-size="9.94" fill="#333333" text-anchor="middle" textLength="14.2" lengthAdjust="spacingAndGlyphs" font-weight="bold">경기</text>
<text x="147.6" y="977.83" font-size="9.94" fill="#333333" text-anchor="middle" textLength="14.2" lengthAdjust="spacingAndGlyphs" font-weight="bold">강원</text>
<text x="118.4" y="966.93" font-size="9.94" fill="#333333" text-anchor="middle" textLength="14.2" lengthAdjust="spacingAndGlyphs" font-weight="bold">충북</text>
<text x="92.9" y="942.83" font-size="9.94" fill="#333333" text-anchor="middle" textLength="14.2" lengthAdjust="spacingAndGlyphs" font-weight="bold">충남</text>
<text x="76" y="912.63" font-size="9.94" fill="#333333" text-anchor="middle" textLength="14.2" lengthAdjust="spacingAndGlyphs" font-weight="bold">전북</text>
<text x="74.3" y="879.33" font-size="9.94" fill="#333333" text-anchor="middle" textLength="14.2" lengthAdjust="spacingAndGlyphs" font-weight="bold">전남</text>
<text x="83.1" y="846.43" font-size="9.94" fill="#333333" text-anchor="middle" textLength="14.2" lengthAdjust="spacingAndGlyphs" font-weight="bold">경북</text>
<text x="104.1" y="817.23" font-size="9.94" fill="#333333" text-anchor="middle" textLength="14.2" lengthAdjust="spacingAndGlyphs" font-weight="bold">경남</text>
<text x="132.3" y="800.63" font-size="9.94" fill="#333333" text-anchor="middle" textLength="14.2" lengthAdjust="spacingAndGlyphs" font-weight="bold">제주</text>
<line x1="300.2" y1="742.7" x2="300.2" y2="980" stroke="#6b80c8" stroke-width="1.1" stroke-dasharray="2 2.8"/>
<rect x="408.8" y="740.7" width="149.7" height="16" rx="6" fill="#eceef9" stroke="#5b78c4" stroke-width="1.1"/>
<text x="428.43" y="752.88" font-size="12.25" fill="#4a69b6" textLength="111.14" lengthAdjust="spacingAndGlyphs" font-weight="bold">광업·제조업 및 서비스업</text>
<rect x="549.7" y="763.6" width="6.1" height="6.1" fill="#7ab4e0"/>
<text x="558.9" y="770.13" font-size="9.94" fill="#333333" textLength="43.4" lengthAdjust="spacingAndGlyphs" font-weight="bold">광업·제조업</text>
<rect x="611.2" y="763.6" width="6.3" height="6.1" fill="#bf84b5"/>
<text x="620" y="770.13" font-size="9.94" fill="#333333" textLength="32.7" lengthAdjust="spacingAndGlyphs" font-weight="bold">서비스업</text>
<line x1="332.3" y1="790.68" x2="332.3" y2="848.76" stroke="#9a9a9a" stroke-width="1"/>
<line x1="332.3" y1="790.68" x2="336.1" y2="790.68" stroke="#9a9a9a" stroke-width="1"/>
<text x="325.8" y="793.78" font-size="8.52" fill="#4a4a4a" text-anchor="end" textLength="8.2" lengthAdjust="spacingAndGlyphs" font-weight="bold">16</text>
<line x1="332.3" y1="810.04" x2="336.1" y2="810.04" stroke="#9a9a9a" stroke-width="1"/>
<text x="325.8" y="813.14" font-size="8.52" fill="#4a4a4a" text-anchor="end" textLength="4" lengthAdjust="spacingAndGlyphs" font-weight="bold">8</text>
<line x1="332.3" y1="829.4" x2="336.1" y2="829.4" stroke="#9a9a9a" stroke-width="1"/>
<text x="325.8" y="832.5" font-size="8.52" fill="#4a4a4a" text-anchor="end" textLength="4" lengthAdjust="spacingAndGlyphs" font-weight="bold">0</text>
<line x1="332.3" y1="848.76" x2="336.1" y2="848.76" stroke="#9a9a9a" stroke-width="1"/>
<text x="325.8" y="851.86" font-size="8.52" fill="#4a4a4a" text-anchor="end" textLength="7.2" lengthAdjust="spacingAndGlyphs" font-weight="bold">-8</text>
<line x1="332.3" y1="829.4" x2="652" y2="829.4" stroke="#9a9a9a" stroke-width="1.3"/>
<rect x="343.4" y="829.4" width="5.8" height="7.27" fill="#78a9d8"/>
<text x="344.8" y="846.77" font-size="10.61" fill="#5a9fd6" text-anchor="middle" textLength="14.7" lengthAdjust="spacingAndGlyphs">-3.5</text>
<rect x="361.78" y="829.4" width="5.8" height="3.16" fill="#78a9d8"/>
<text x="363.18" y="842.66" font-size="10.61" fill="#5a9fd6" text-anchor="middle" textLength="14.7" lengthAdjust="spacingAndGlyphs">-1.8</text>
<rect x="380.16" y="818.27" width="5.8" height="11.13" fill="#78a9d8"/>
<text x="383.06" y="816.47" font-size="10.61" fill="#5a9fd6" text-anchor="middle" textLength="11.9" lengthAdjust="spacingAndGlyphs">4.6</text>
<rect x="398.54" y="829.4" width="5.8" height="10.66" fill="#78a9d8"/>
<text x="399.94" y="850.16" font-size="10.61" fill="#5a9fd6" text-anchor="middle" textLength="14.7" lengthAdjust="spacingAndGlyphs">-4.9</text>
<rect x="416.92" y="822.38" width="5.8" height="7.02" fill="#78a9d8"/>
<text x="419.82" y="820.58" font-size="10.61" fill="#5a9fd6" text-anchor="middle" textLength="11.9" lengthAdjust="spacingAndGlyphs">2.9</text>
<rect x="435.3" y="829.4" width="5.8" height="9.69" fill="#78a9d8"/>
<text x="436.7" y="849.19" font-size="10.61" fill="#5a9fd6" text-anchor="middle" textLength="14.7" lengthAdjust="spacingAndGlyphs">-4.5</text>
<rect x="453.68" y="818.27" width="5.8" height="11.13" fill="#78a9d8"/>
<text x="456.58" y="816.47" font-size="10.61" fill="#5a9fd6" text-anchor="middle" textLength="11.9" lengthAdjust="spacingAndGlyphs">4.6</text>
<rect x="472.06" y="829.4" width="5.8" height="1.46" fill="#78a9d8"/>
<text x="473.46" y="840.96" font-size="10.61" fill="#5a9fd6" text-anchor="middle" textLength="14.7" lengthAdjust="spacingAndGlyphs">-1.1</text>
<rect x="490.44" y="806.41" width="5.8" height="22.99" fill="#78a9d8"/>
<text x="493.34" y="804.61" font-size="10.61" fill="#5a9fd6" text-anchor="middle" textLength="11.9" lengthAdjust="spacingAndGlyphs">9.5</text>
<rect x="508.82" y="823.59" width="5.8" height="5.81" fill="#78a9d8"/>
<text x="511.72" y="821.79" font-size="10.61" fill="#5a9fd6" text-anchor="middle" textLength="11.9" lengthAdjust="spacingAndGlyphs">2.4</text>
<rect x="527.2" y="816.09" width="5.8" height="13.31" fill="#78a9d8"/>
<text x="530.1" y="814.29" font-size="10.61" fill="#5a9fd6" text-anchor="middle" textLength="11.9" lengthAdjust="spacingAndGlyphs">5.5</text>
<rect x="545.58" y="829.4" width="5.8" height="2.19" fill="#78a9d8"/>
<text x="546.98" y="841.69" font-size="10.61" fill="#5a9fd6" text-anchor="middle" textLength="14.7" lengthAdjust="spacingAndGlyphs">-1.4</text>
<rect x="563.96" y="816.82" width="5.8" height="12.58" fill="#78a9d8"/>
<text x="566.86" y="815.02" font-size="10.61" fill="#5a9fd6" text-anchor="middle" textLength="11.9" lengthAdjust="spacingAndGlyphs">5.2</text>
<rect x="582.34" y="829.4" width="5.8" height="5.82" fill="#78a9d8"/>
<text x="583.74" y="845.32" font-size="10.61" fill="#5a9fd6" text-anchor="middle" textLength="14.7" lengthAdjust="spacingAndGlyphs">-2.9</text>
<rect x="600.72" y="824.08" width="5.8" height="5.32" fill="#78a9d8"/>
<text x="603.62" y="822.28" font-size="10.61" fill="#5a9fd6" text-anchor="middle" textLength="11.9" lengthAdjust="spacingAndGlyphs">2.2</text>
<rect x="619.1" y="829.4" width="5.8" height="4.37" fill="#78a9d8"/>
<text x="620.5" y="843.87" font-size="10.61" fill="#5a9fd6" text-anchor="middle" textLength="14.7" lengthAdjust="spacingAndGlyphs">-2.3</text>
<rect x="637.48" y="817.3" width="5.8" height="12.1" fill="#78a9d8"/>
<text x="640.38" y="815.5" font-size="10.61" fill="#5a9fd6" text-anchor="middle" textLength="11.9" lengthAdjust="spacingAndGlyphs">5.0</text>
<rect x="334" y="871" width="317.2" height="13.2" rx="6.6" fill="#e8e8e8"/>
<text x="346.3" y="880.65" font-size="8.79" fill="#454545" text-anchor="middle" textLength="12.43" lengthAdjust="spacingAndGlyphs" font-weight="bold">서울</text>
<text x="364.68" y="880.65" font-size="8.79" fill="#454545" text-anchor="middle" textLength="12.43" lengthAdjust="spacingAndGlyphs" font-weight="bold">부산</text>
<text x="383.06" y="880.65" font-size="8.79" fill="#454545" text-anchor="middle" textLength="12.43" lengthAdjust="spacingAndGlyphs" font-weight="bold">대구</text>
<text x="401.44" y="880.65" font-size="8.79" fill="#454545" text-anchor="middle" textLength="12.43" lengthAdjust="spacingAndGlyphs" font-weight="bold">인천</text>
<text x="419.82" y="880.65" font-size="8.79" fill="#454545" text-anchor="middle" textLength="12.43" lengthAdjust="spacingAndGlyphs" font-weight="bold">광주</text>
<text x="438.2" y="880.65" font-size="8.79" fill="#454545" text-anchor="middle" textLength="12.43" lengthAdjust="spacingAndGlyphs" font-weight="bold">대전</text>
<text x="456.58" y="880.65" font-size="8.79" fill="#454545" text-anchor="middle" textLength="12.43" lengthAdjust="spacingAndGlyphs" font-weight="bold">울산</text>
<text x="474.96" y="880.65" font-size="8.79" fill="#454545" text-anchor="middle" textLength="12.43" lengthAdjust="spacingAndGlyphs" font-weight="bold">세종</text>
<text x="493.34" y="880.65" font-size="8.79" fill="#454545" text-anchor="middle" textLength="12.43" lengthAdjust="spacingAndGlyphs" font-weight="bold">경기</text>
<text x="511.72" y="880.65" font-size="8.79" fill="#454545" text-anchor="middle" textLength="12.43" lengthAdjust="spacingAndGlyphs" font-weight="bold">강원</text>
<text x="530.1" y="880.65" font-size="8.79" fill="#454545" text-anchor="middle" textLength="12.43" lengthAdjust="spacingAndGlyphs" font-weight="bold">충북</text>
<text x="548.48" y="880.65" font-size="8.79" fill="#454545" text-anchor="middle" textLength="12.43" lengthAdjust="spacingAndGlyphs" font-weight="bold">충남</text>
<text x="566.86" y="880.65" font-size="8.79" fill="#454545" text-anchor="middle" textLength="12.43" lengthAdjust="spacingAndGlyphs" font-weight="bold">전북</text>
<text x="585.24" y="880.65" font-size="8.79" fill="#454545" text-anchor="middle" textLength="12.43" lengthAdjust="spacingAndGlyphs" font-weight="bold">전남</text>
<text x="603.62" y="880.65" font-size="8.79" fill="#454545" text-anchor="middle" textLength="12.43" lengthAdjust="spacingAndGlyphs" font-weight="bold">경북</text>
<text x="622" y="880.65" font-size="8.79" fill="#454545" text-anchor="middle" textLength="12.43" lengthAdjust="spacingAndGlyphs" font-weight="bold">경남</text>
<text x="640.38" y="880.65" font-size="8.79" fill="#454545" text-anchor="middle" textLength="12.43" lengthAdjust="spacingAndGlyphs" font-weight="bold">제주</text>
<line x1="332.2" y1="906.06" x2="332.2" y2="973.62" stroke="#9a9a9a" stroke-width="1"/>
<line x1="332.2" y1="906.06" x2="336" y2="906.06" stroke="#9a9a9a" stroke-width="1"/>
<text x="325.7" y="909.16" font-size="8.52" fill="#4a4a4a" text-anchor="end" textLength="4" lengthAdjust="spacingAndGlyphs" font-weight="bold">8</text>
<line x1="332.2" y1="928.58" x2="336" y2="928.58" stroke="#9a9a9a" stroke-width="1"/>
<text x="325.7" y="931.68" font-size="8.52" fill="#4a4a4a" text-anchor="end" textLength="4" lengthAdjust="spacingAndGlyphs" font-weight="bold">4</text>
<line x1="332.2" y1="951.1" x2="336" y2="951.1" stroke="#9a9a9a" stroke-width="1"/>
<text x="325.7" y="954.2" font-size="8.52" fill="#4a4a4a" text-anchor="end" textLength="4" lengthAdjust="spacingAndGlyphs" font-weight="bold">0</text>
<line x1="332.2" y1="973.62" x2="336" y2="973.62" stroke="#9a9a9a" stroke-width="1"/>
<text x="325.7" y="976.72" font-size="8.52" fill="#4a4a4a" text-anchor="end" textLength="7.2" lengthAdjust="spacingAndGlyphs" font-weight="bold">-4</text>
<line x1="332.2" y1="951.1" x2="652.6" y2="951.1" stroke="#9a9a9a" stroke-width="1.3"/>
<rect x="343.4" y="925.37" width="5.8" height="25.73" fill="#bf84b5"/>
<text x="346.3" y="923.57" font-size="10.61" fill="#cc6aae" text-anchor="middle" textLength="11.9" lengthAdjust="spacingAndGlyphs">4.5</text>
<rect x="361.78" y="936.06" width="5.8" height="15.04" fill="#bf84b5"/>
<text x="364.68" y="934.26" font-size="10.61" fill="#cc6aae" text-anchor="middle" textLength="11.9" lengthAdjust="spacingAndGlyphs">2.6</text>
<rect x="380.16" y="947.32" width="5.8" height="3.78" fill="#bf84b5"/>
<text x="383.06" y="945.52" font-size="10.61" fill="#cc6aae" text-anchor="middle" textLength="11.9" lengthAdjust="spacingAndGlyphs">0.6</text>
<rect x="398.54" y="949.57" width="5.8" height="1.53" fill="#bf84b5"/>
<text x="401.44" y="947.77" font-size="10.61" fill="#cc6aae" text-anchor="middle" textLength="11.9" lengthAdjust="spacingAndGlyphs">0.2</text>
<rect x="416.92" y="944.51" width="5.8" height="6.59" fill="#bf84b5"/>
<text x="419.82" y="942.71" font-size="10.61" fill="#cc6aae" text-anchor="middle" textLength="11.9" lengthAdjust="spacingAndGlyphs">1.1</text>
<rect x="435.3" y="943.94" width="5.8" height="7.16" fill="#bf84b5"/>
<text x="438.2" y="942.14" font-size="10.61" fill="#cc6aae" text-anchor="middle" textLength="11.9" lengthAdjust="spacingAndGlyphs">1.2</text>
<rect x="453.68" y="935.5" width="5.8" height="15.6" fill="#bf84b5"/>
<text x="456.58" y="933.7" font-size="10.61" fill="#cc6aae" text-anchor="middle" textLength="11.9" lengthAdjust="spacingAndGlyphs">2.7</text>
<rect x="472.06" y="938.31" width="5.8" height="12.79" fill="#bf84b5"/>
<text x="474.96" y="936.51" font-size="10.61" fill="#cc6aae" text-anchor="middle" textLength="11.9" lengthAdjust="spacingAndGlyphs">2.2</text>
<rect x="490.44" y="940.57" width="5.8" height="10.53" fill="#bf84b5"/>
<text x="493.34" y="938.77" font-size="10.61" fill="#cc6aae" text-anchor="middle" textLength="11.9" lengthAdjust="spacingAndGlyphs">1.8</text>
<rect x="508.82" y="943.94" width="5.8" height="7.16" fill="#bf84b5"/>
<text x="511.72" y="942.14" font-size="10.61" fill="#cc6aae" text-anchor="middle" textLength="11.9" lengthAdjust="spacingAndGlyphs">1.2</text>
<rect x="527.2" y="938.31" width="5.8" height="12.79" fill="#bf84b5"/>
<text x="530.1" y="936.51" font-size="10.61" fill="#cc6aae" text-anchor="middle" textLength="11.9" lengthAdjust="spacingAndGlyphs">2.2</text>
<rect x="545.58" y="949.01" width="5.8" height="2.09" fill="#bf84b5"/>
<text x="548.48" y="947.21" font-size="10.61" fill="#cc6aae" text-anchor="middle" textLength="11.9" lengthAdjust="spacingAndGlyphs">0.3</text>
<rect x="563.96" y="949.01" width="5.8" height="2.09" fill="#bf84b5"/>
<text x="566.86" y="947.21" font-size="10.61" fill="#cc6aae" text-anchor="middle" textLength="11.9" lengthAdjust="spacingAndGlyphs">0.3</text>
<rect x="582.34" y="951.1" width="5.8" height="7.26" fill="#bf84b5"/>
<text x="583.74" y="968.46" font-size="10.61" fill="#cc6aae" text-anchor="middle" textLength="14.7" lengthAdjust="spacingAndGlyphs">-1.2</text>
<rect x="600.72" y="943.94" width="5.8" height="7.16" fill="#bf84b5"/>
<text x="603.62" y="942.14" font-size="10.61" fill="#cc6aae" text-anchor="middle" textLength="11.9" lengthAdjust="spacingAndGlyphs">1.2</text>
<rect x="619.1" y="951.1" width="5.8" height="1.06" fill="#bf84b5"/>
<text x="620.5" y="962.26" font-size="10.61" fill="#cc6aae" text-anchor="middle" textLength="14.7" lengthAdjust="spacingAndGlyphs">-0.1</text>
<rect x="637.48" y="951.1" width="5.8" height="18.52" fill="#bf84b5"/>
<text x="638.88" y="979.72" font-size="10.61" fill="#cc6aae" text-anchor="middle" textLength="14.7" lengthAdjust="spacingAndGlyphs">-3.2</text>
</svg>
</body></html>
